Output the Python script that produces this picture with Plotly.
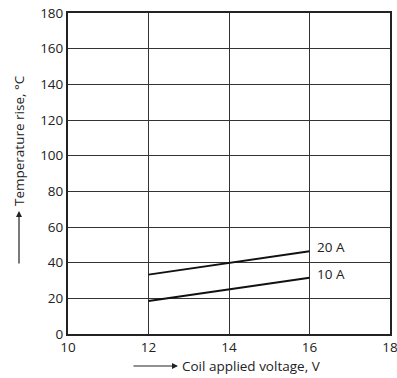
import plotly.graph_objects as go

voltage = [12, 16]
rise_20A = [33.3, 46.4]
rise_10A = [18.5, 31.6]
series_names = ["20 A", "10 A"]
x_ticks = [10, 12, 14, 16, 18]
y_ticks = [0, 20, 40, 60, 80, 100, 120, 140, 160, 180]

FONT = "Open Sans"
FS = 13.5
fig = go.Figure()
for name, ys in zip(series_names, [rise_20A, rise_10A]):
    fig.add_trace(go.Scatter(x=voltage, y=ys, mode="lines",
                             line=dict(color="#111111", width=2), showlegend=False))
    fig.add_annotation(x=voltage[-1], y=ys[-1], text=name, showarrow=False,
                       xanchor="left", xshift=5, yshift=4,
                       font=dict(family=FONT, size=FS, color="#222222"))

fig.update_layout(
    width=397, height=378,
    margin=dict(l=68, r=7, t=13, b=44, autoexpand=False),
    paper_bgcolor="white", plot_bgcolor="white",
    font=dict(family=FONT, size=FS, color="#222222"),
    xaxis=dict(range=[10, 18], tickvals=x_ticks, showgrid=True, gridcolor="#333333",
               gridwidth=1, showline=True, linecolor="#222222", linewidth=2, mirror=True,
               zeroline=False, ticks="", ticklen=0, automargin=False,
               ticklabeloverflow="allow"),
    yaxis=dict(range=[0, 180], tickvals=y_ticks, showgrid=True, gridcolor="#333333",
               gridwidth=1, showline=True, linecolor="#222222", linewidth=2, mirror=True,
               zeroline=False, ticks="", ticklen=0, automargin=False,
               ticklabeloverflow="allow"),
)

# x-axis title with arrow
fig.add_annotation(xref="paper", yref="paper", x=(180-68)/322, y=-(366-334)/321,
                   text="Coil applied voltage, V", showarrow=False, xanchor="left",
                   yanchor="middle", font=dict(family=FONT, size=FS, color="#222222"))
fig.add_annotation(xref="paper", yref="paper", x=(178-68)/322, y=-(366-334)/321,
                   ax=-46, ay=0,
                   text="", showarrow=True, arrowhead=2, arrowsize=1, arrowwidth=1.2,
                   arrowcolor="#222222")
# y-axis title with arrow
fig.add_annotation(xref="paper", yref="paper", x=-(68-19)/322, y=(334-141)/321,
                   text="Temperature rise, °C", showarrow=False, textangle=-90,
                   xanchor="center", yanchor="middle",
                   font=dict(family=FONT, size=FS, color="#222222"))
fig.add_annotation(xref="paper", yref="paper", x=-(68-19)/322, y=(334-211)/321,
                   ax=0, ay=54,
                   text="", showarrow=True, arrowhead=2, arrowsize=1, arrowwidth=1.2,
                   arrowcolor="#222222")

fig.write_html("out.html", config={"displayModeBar": False},
               post_script="document.body.style.margin='0';document.body.style.overflow='hidden';")
